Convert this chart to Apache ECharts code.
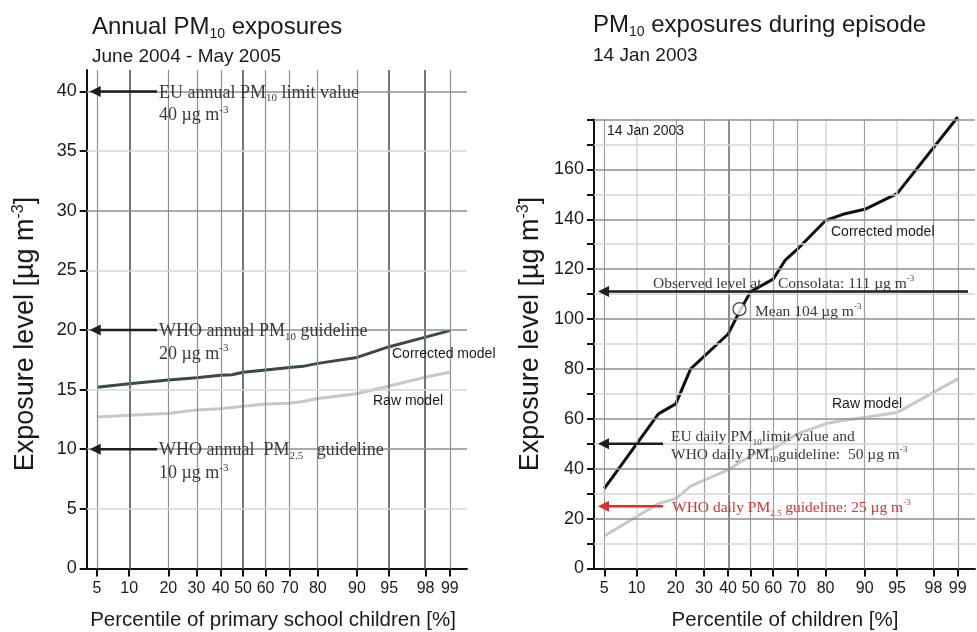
<!DOCTYPE html>
<html><head><meta charset="utf-8">
<script src="https://cdn.jsdelivr.net/npm/echarts@6/dist/echarts.min.js"></script>
<style>html,body{margin:0;padding:0;background:#fff}#c{width:977px;height:632px}</style>
</head><body><div id="c"></div>
<script>
// ---------------- data ----------------
const tickPercentiles = [5, 10, 20, 30, 40, 50, 60, 70, 80, 90, 95, 98, 99];

const annualPercentiles = [5, 10, 20, 30, 40, 45, 50, 60, 70, 75, 80, 90, 95, 98, 99];
const annualCorrected   = [15.2, 15.5, 15.8, 16.0, 16.2, 16.25, 16.45, 16.65, 16.85, 16.95, 17.2, 17.7, 18.6, 19.4, 19.95];
const annualRawPercentiles = [5, 10, 20, 30, 40, 50, 60, 70, 75, 80, 90, 95, 98, 99];
const annualRaw         = [12.7, 12.85, 13.0, 13.3, 13.4, 13.6, 13.8, 13.85, 14.0, 14.25, 14.65, 15.3, 16.05, 16.45];

const episodePercentiles = [5, 15, 20, 25, 40, 45, 50, 55, 60, 65, 70, 80, 85, 90, 95, 99];
const episodeCorrected   = [32, 62, 66, 80, 94, 103, 111, 113.5, 116, 123.5, 128, 139.5, 142, 144, 150.3, 181];
const episodeRawPercentiles = [5, 15, 20, 25, 40, 45, 55, 60, 70, 80, 85, 90, 95, 99];
const episodeRaw         = [13, 26, 28, 33, 39.5, 42.5, 47.5, 48, 54, 58, 59.3, 60.5, 62.5, 76];

const meanPercentile = 45;
const meanValue = 104;

const annualYTicks = [0, 5, 10, 15, 20, 25, 30, 35, 40];
const episodeYTicks = [0, 10, 20, 30, 40, 50, 60, 70, 80, 90, 100, 110, 120, 130, 140, 150, 160, 170, 180];
const episodeYLabels = [0, 20, 40, 60, 80, 100, 120, 140, 160];

const annualEULimit = 40, annualWHO10 = 20, annualWHO25 = 10;
const episodeObserved = 111, episodeEULimit = 50, episodeWHO25 = 25;

// ---------------- normal probability scale ----------------
function probit(p) {
  const a=[-3.969683028665376e+01,2.209460984245205e+02,-2.759285104469687e+02,1.383577518672690e+02,-3.066479806614716e+01,2.506628277459239e+00];
  const b=[-5.447609879822406e+01,1.615858368580409e+02,-1.556989798598866e+02,6.680131188771972e+01,-1.328068155288572e+01];
  const c=[-7.784894002430293e-03,-3.223964580411365e-01,-2.400758277161838e+00,-2.549732539343734e+00,4.374664141464968e+00,2.938163982698783e+00];
  const d=[7.784695709041462e-03,3.224671290700398e-01,2.445134137142996e+00,3.754408661907416e+00];
  const pl=0.02425, ph=1-pl; let q, r;
  if (p < pl) { q=Math.sqrt(-2*Math.log(p)); return (((((c[0]*q+c[1])*q+c[2])*q+c[3])*q+c[4])*q+c[5])/((((d[0]*q+d[1])*q+d[2])*q+d[3])*q+1); }
  if (p <= ph) { q=p-0.5; r=q*q; return (((((a[0]*r+a[1])*r+a[2])*r+a[3])*r+a[4])*r+a[5])*q/(((((b[0]*r+b[1])*r+b[2])*r+b[3])*r+b[4])*r+1); }
  q=Math.sqrt(-2*Math.log(1-p)); return -(((((c[0]*q+c[1])*q+c[2])*q+c[3])*q+c[4])*q+c[5])/((((d[0]*q+d[1])*q+d[2])*q+d[3])*q+1);
}
const Z = p => probit(p / 100);
const tickZ = tickPercentiles.map(Z);
const pctLabel = v => { let bi = 0, bd = 1e9; tickZ.forEach((z, i) => { const dd = Math.abs(z - v); if (dd < bd) { bd = dd; bi = i; } }); return String(tickPercentiles[bi]); };
const pairs = (ps, vs) => ps.map((p, i) => [Z(p), vs[i]]);

const SANS = "'Liberation Sans', Arial, Helvetica, sans-serif";
const SERIF = "'Liberation Serif', 'Times New Roman', serif";
const XMIN = -1.76, XMAX = 2.52;

// grid line styles
const MED = '#8b9094', DARK = '#6f7579', LIGHT = '#d3d5d9';
const leftVStyle = {10: {color: DARK, width: 2}, 50: {color: DARK, width: 2}, 95: {color: DARK, width: 2}, 98: {color: DARK, width: 2}};
const rightVStyle = {10: {color: LIGHT, width: 1.5}, 40: {color: '#62686c', width: 1.5}, 80: {color: LIGHT, width: 1.5}, 95: {color: LIGHT, width: 1.5}};

function xAxisCfg(gi) {
  return {
    type: 'value', gridIndex: gi, min: XMIN, max: XMAX,
    splitLine: {show: false},
    axisLine: {onZero: false, lineStyle: {color: '#111', width: 2}},
    axisTick: {customValues: tickZ, length: 8, lineStyle: {color: '#111', width: 2}},
    axisLabel: {customValues: tickZ, formatter: pctLabel, fontSize: 16, color: '#1a1a1a', fontFamily: SANS, margin: 12}
  };
}
function yAxisCfg(gi, max, ticks, labels) {
  return {
    type: 'value', gridIndex: gi, min: 0, max: max,
    splitLine: {show: false},
    axisLine: {onZero: false, lineStyle: {color: '#111', width: 2}},
    axisTick: {customValues: ticks, length: 7, lineStyle: {color: '#111', width: 2}},
    axisLabel: {customValues: labels, fontSize: 18, color: '#1a1a1a', fontFamily: SANS, margin: 10}
  };
}

const leftMarks = tickPercentiles.map(p => ({xAxis: Z(p), lineStyle: Object.assign({color: MED, width: 1.2, type: 'solid'}, leftVStyle[p] || {})}))
  .concat(annualYTicks.filter(v => v > 0).map(v => ({yAxis: v, lineStyle: {color: v % 10 === 0 ? MED : LIGHT, width: 1.5, type: 'solid'}})));
const rightMarks = tickPercentiles.map(p => ({xAxis: Z(p), lineStyle: Object.assign({color: '#9da1a5', width: 1.2, type: 'solid'}, rightVStyle[p] || {})}))
  .concat(episodeYTicks.filter(v => v > 0).map(v => ({yAxis: v, lineStyle: {color: v % 20 === 0 ? MED : LIGHT, width: 1.5, type: 'solid'}})));

function gridSeries(xi, marks) {
  return {type: 'line', xAxisIndex: xi, yAxisIndex: xi, data: [], z: 1, silent: true,
    markLine: {silent: true, symbol: ['none', 'none'], label: {show: false}, animation: false, data: marks}};
}

const option = {
  animation: false,
  backgroundColor: '#fff',
  grid: [
    {left: 86.7, top: 70, width: 380.3, height: 498.5},
    {left: 594, top: 119.5, width: 381, height: 449}
  ],
  xAxis: [xAxisCfg(0), xAxisCfg(1)],
  yAxis: [yAxisCfg(0, 41.8, annualYTicks, annualYTicks), yAxisCfg(1, 180, episodeYTicks, episodeYLabels)],
  series: [
    gridSeries(0, leftMarks),
    gridSeries(1, rightMarks),
    {type: 'line', xAxisIndex: 0, yAxisIndex: 0, data: pairs(annualRawPercentiles, annualRaw), symbol: 'none', z: 3, lineStyle: {color: '#c5c7c9', width: 3}},
    {type: 'line', xAxisIndex: 0, yAxisIndex: 0, data: pairs(annualPercentiles, annualCorrected), symbol: 'none', z: 3, lineStyle: {color: '#3d474c', width: 3}},
    {type: 'line', xAxisIndex: 1, yAxisIndex: 1, data: pairs(episodeRawPercentiles, episodeRaw), symbol: 'none', z: 3, clip: false, lineStyle: {color: '#c8c8ca', width: 3}},
    {type: 'line', xAxisIndex: 1, yAxisIndex: 1, data: pairs(episodePercentiles, episodeCorrected), symbol: 'none', z: 3, clip: false, lineStyle: {color: '#111', width: 3}},
    {type: 'scatter', xAxisIndex: 1, yAxisIndex: 1, data: [[Z(meanPercentile), meanValue]], symbol: 'circle', symbolSize: 13, z: 5,
      itemStyle: {color: '#fff', borderColor: '#111', borderWidth: 1.3}}
  ]
};

const chart = echarts.init(document.getElementById('c'), null, {renderer: 'canvas'});
chart.setOption(option);

// ---------------- annotations ----------------
function richSet(family, size, color) {
  return {
    n: {fontFamily: family, fontSize: size, fill: color, lineHeight: size + 4},
    sb: {fontFamily: family, fontSize: Math.round(size * 0.6), fill: color, lineHeight: Math.round(size * 0.5), verticalAlign: 'bottom'},
    sp: {fontFamily: family, fontSize: Math.round(size * 0.6), fill: color, lineHeight: Math.round(size * 0.75), verticalAlign: 'top'}
  };
}
function txt(x, y, text, rich, opts) {
  const o = opts || {};
  return {type: 'text', x: x, y: y, z: 20, silent: true, rotation: o.rotation || 0,
    style: {text: text, rich: rich, align: o.align || 'left', textAlign: o.align || 'left', verticalAlign: 'middle', textVerticalAlign: 'middle'}};
}
function arrow(tipX, tailX, y, color, w) {
  const head = 11, half = 5.5;
  return [
    {type: 'line', z: 20, silent: true, shape: {x1: tipX + head - 1, y1: y, x2: tailX, y2: y}, style: {stroke: color, lineWidth: w || 2.5}},
    {type: 'polygon', z: 20, silent: true, shape: {points: [[tipX, y], [tipX + head, y - half], [tipX + head, y + half]]}, style: {fill: color}}
  ];
}

const yPix = (gi, v) => chart.convertToPixel({gridIndex: gi}, [0, v])[1];
const axisX = gi => chart.convertToPixel({gridIndex: gi}, [XMIN, 0])[0];

const L0 = axisX(0), R0 = axisX(1);
const sR = richSet(SERIF, 18, '#3a3a3a');
const sR2 = richSet(SERIF, 15.5, '#3a3a3a');
const sRed = richSet(SERIF, 15.5, '#d9332e');
const tl = richSet(SANS, 24, '#1a1a1a');
const st = richSet(SANS, 19, '#1a1a1a');
const ax = richSet(SANS, 20.5, '#1a1a1a');
const ay = richSet(SANS, 27, '#1a1a1a');
const lb = richSet(SANS, 14, '#1a1a1a');

const g = [];
// titles
g.push(txt(92, 27, '{n|Annual PM}{sb|10}{n| exposures}', tl));
g.push(txt(92, 57, '{n|June 2004 - May 2005}', st));
g.push(txt(593, 25.5, '{n|PM}{sb|10}{n| exposures during episode}', tl));
g.push(txt(593, 56, '{n|14 Jan 2003}', st));
// axis names
g.push(txt(273, 620, '{n|Percentile of primary school children [%]}', ax, {align: 'center'}));
g.push(txt(785, 620, '{n|Percentile of children [%]}', ax, {align: 'center'}));
g.push(txt(26, 334, '{n|Exposure level [µg m}{sp|-3}{n|]}', ay, {align: 'center', rotation: Math.PI / 2}));
g.push(txt(531, 334, '{n|Exposure level [µg m}{sp|-3}{n|]}', ay, {align: 'center', rotation: Math.PI / 2}));

// left annotations
[[annualEULimit, '{n|EU annual PM}{sb|10}{n| limit value}', '{n|40 µg m}{sp|-3}'],
 [annualWHO10, '{n|WHO annual PM}{sb|10}{n| guideline}', '{n|20 µg m}{sp|-3}'],
 [annualWHO25, '{n|WHO annual  PM}{sb|2.5}{n|   guideline}', '{n|10 µg m}{sp|-3}']].forEach(([v, l1, l2]) => {
  const y = yPix(0, v);
  arrow(L0 + 3, 157, y, '#1e1e1e', 2.5).forEach(e => g.push(e));
  g.push(txt(159, y + 1.5, l1, sR));
  g.push(txt(159, y + 24, l2, sR));
});
g.push(txt(392, 354, '{n|Corrected model}', lb));
g.push(txt(373, 401, '{n|Raw model}', lb));

// right annotations
g.push(txt(607, 131.5, '{n|14 Jan 2003}', lb));
g.push(txt(831, 232, '{n|Corrected model}', lb));
g.push(txt(832, 404, '{n|Raw model}', lb));
{
  const y = yPix(1, episodeObserved);
  arrow(R0 + 4, 968, y, '#1e1e1e', 2.5).forEach(e => g.push(e));
  g.push(txt(653, y - 8, '{n|Observed level at}', sR2));
  g.push(txt(778, y - 8, '{n|Consolata: 111 µg m}{sp|-3}', sR2));
  const ym = yPix(1, meanValue);
  g.push(txt(755, ym + 3, '{n|Mean 104 µg m}{sp|-3}', sR2));
  const ye = yPix(1, episodeEULimit);
  arrow(R0 + 4, 663, ye, '#1e1e1e', 2.5).forEach(e => g.push(e));
  g.push(txt(671, ye - 6.5, '{n|EU daily PM}{sb|10}{n|limit value and}', sR2));
  g.push(txt(671, ye + 11, '{n|WHO daily PM}{sb|10}{n|guideline:  50 µg m}{sp|-3}', sR2));
  const yw = yPix(1, episodeWHO25);
  arrow(R0 + 4, 663, yw, '#e0302a', 2.5).forEach(e => g.push(e));
  g.push(txt(672, yw + 2, '{n|WHO daily PM}{sb|2.5}{n| guideline: 25 µg m}{sp|-3}', sRed));
}

chart.setOption({graphic: g});
</script>
</body></html>
